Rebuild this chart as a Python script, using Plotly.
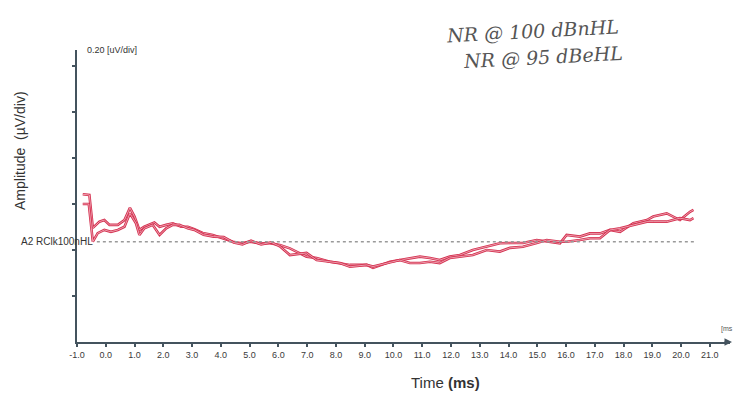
import plotly.graph_objects as go

# ---- data (time in ms, amplitude in µV) ----
time_a = [-0.80, -0.57, -0.45, -0.22, -0.05, 0.13, 0.42, 0.65, 0.84, 1.00, 1.17, 1.34, 1.69, 1.87,
          2.10, 2.33, 2.62, 2.85, 3.08, 3.37, 3.72, 4.07, 4.42, 4.72, 5.01, 5.36, 5.70, 6.05, 6.40,
          6.98, 7.33, 7.79, 8.14, 8.49, 9.07, 9.29, 9.88, 10.22, 10.57, 10.92, 11.27, 11.61, 11.96,
          12.31, 12.76, 13.24, 13.70, 14.05, 14.50, 14.98, 15.33, 15.79, 16.02, 16.48, 16.83, 17.18,
          17.53, 17.88, 18.34, 18.81, 19.03, 19.50, 19.96, 20.31, 20.43]
amp_a = [0.206, 0.203, 0.060, 0.087, 0.094, 0.073, 0.073, 0.094, 0.147, 0.109, 0.051, 0.065, 0.083,
         0.065, 0.073, 0.080, 0.065, 0.065, 0.054, 0.038, 0.029, 0.016, 0.000, -0.007, 0.000, -0.007,
         -0.007, -0.014, -0.029, -0.065, -0.071, -0.087, -0.093, -0.101, -0.101, -0.114, -0.087,
         -0.080, -0.071, -0.065, -0.071, -0.080, -0.065, -0.058, -0.036, -0.022, -0.007, -0.006,
         -0.006, 0.007, 0.000, -0.007, 0.029, 0.022, 0.036, 0.036, 0.051, 0.043, 0.080, 0.094,
         0.109, 0.123, 0.094, 0.130, 0.138]

time_b = [-0.80, -0.59, -0.45, -0.28, -0.05, 0.18, 0.42, 0.65, 0.84, 1.05, 1.17, 1.34, 1.63, 1.87,
          2.10, 2.33, 2.56, 2.85, 3.08, 3.40, 3.75, 4.10, 4.45, 4.75, 5.05, 5.40, 5.75, 6.05, 6.40,
          6.98, 7.33, 7.79, 8.14, 8.49, 9.07, 9.29, 9.88, 10.22, 10.57, 10.92, 11.27, 11.61, 11.96,
          12.31, 12.76, 13.24, 13.70, 14.05, 14.50, 14.98, 15.33, 15.79, 16.02, 16.48, 16.83, 17.18,
          17.53, 17.88, 18.34, 18.81, 19.03, 19.50, 19.96, 20.31, 20.43]
amp_b = [0.164, 0.164, 0.000, 0.037, 0.051, 0.043, 0.051, 0.065, 0.123, 0.080, 0.029, 0.058, 0.073,
         0.029, 0.058, 0.073, 0.073, 0.058, 0.051, 0.030, 0.022, 0.020, -0.004, -0.012, 0.004, -0.012,
         -0.003, -0.020, -0.058, -0.049, -0.080, -0.087, -0.093, -0.109, -0.101, -0.108, -0.090,
         -0.080, -0.093, -0.093, -0.087, -0.093, -0.071, -0.065, -0.058, -0.036, -0.043, -0.027,
         -0.022, -0.006, 0.007, 0.000, 0.000, 0.007, 0.015, 0.015, 0.051, 0.058, 0.073, 0.087,
         0.087, 0.087, 0.102, 0.094, 0.102]

x_ticks = [float(v) for v in range(-1, 22)]
x_tick_labels = [f"{v:.1f}" for v in x_ticks]
y_ticks = [-0.236, -0.036, 0.164, 0.364, 0.564, 0.764]

RED = "#d4304f"
PINK = "#f3b9c4"
AXIS = "#44535e"

fig = go.Figure()
for t, a in [(time_a, amp_a), (time_b, amp_b)]:
    fig.add_trace(go.Scatter(x=t, y=a, mode="lines",
                             line=dict(color=RED, width=2.6), hoverinfo="skip"))
    fig.add_trace(go.Scatter(x=t, y=a, mode="lines",
                             line=dict(color=PINK, width=0.8), hoverinfo="skip"))

# dotted baseline
fig.add_shape(type="line", x0=-0.31, x1=20.45, y0=0, y1=0, xref="x", yref="y",
              line=dict(color="#9a9a9a", width=1.5, dash="dot"))

fig.update_layout(
    width=733, height=398,
    margin=dict(l=77, r=3, t=50, b=56),
    paper_bgcolor="white", plot_bgcolor="white",
    showlegend=False,
    font=dict(family="Liberation Sans, Arial, sans-serif", color="#333333"),
    xaxis=dict(range=[-1, 21.7], showgrid=False, zeroline=False,
               showline=True, linecolor=AXIS, linewidth=1.5,
               tickmode="array", tickvals=x_ticks, ticktext=x_tick_labels,
               ticks="outside", ticklen=3, tickcolor=AXIS, tickwidth=1.5,
               tickfont=dict(size=9, color="#3a3a3a")),
    yaxis=dict(range=[-0.436, 0.833], showgrid=False, zeroline=False,
               showline=True, linecolor=AXIS, linewidth=1.5,
               tickmode="array", tickvals=y_ticks, ticktext=[""] * len(y_ticks),
               ticks="outside", ticklen=3, tickcolor=AXIS, tickwidth=1.5),
)

HAND = dict(size=19, color="#555555", family="DejaVu Serif, serif", style="italic")
annotations = [
    dict(text="Amplitude  (µV/div)", textangle=-90, font=dict(size=14, color="#333333")),
    dict(text="Time <b>(ms)</b>", font=dict(size=15, color="#333333")),
    dict(text="0.20 [uV/div]", font=dict(size=9, color="#333333")),
    dict(text="A2 RClk100nHL", font=dict(size=10, color="#333333")),
    dict(text="[ms", font=dict(size=7, color="#555555")),
    dict(text="NR @ 100 dBnHL", textangle=-3, font=HAND),
    dict(text="NR @ 95 dBeHL", textangle=-3, font=HAND),
]
W, H = 733, 398
pw, ph = W - 77 - 3, H - 50 - 56
def px(x):
    return (x - 77) / pw
def py(y):
    return (H - 56 - y) / ph
pos = [(20, 150), (445, 382), (112, 50), (57, 241), (727, 329), (532, 31), (543, 57)]
for ann, (xx, yy) in zip(annotations, pos):
    ann.update(x=px(xx), y=py(yy), xref="paper", yref="paper", showarrow=False,
               xanchor="center", yanchor="middle")
    fig.add_annotation(**ann)

# arrow at end of x-axis
fig.add_annotation(x=px(733), y=py(342), xref="paper", yref="paper", ax=-10, ay=0,
                   showarrow=True, arrowhead=2, arrowsize=1, arrowwidth=1.5,
                   arrowcolor=AXIS, text="")

fig.write_html("out.html")
